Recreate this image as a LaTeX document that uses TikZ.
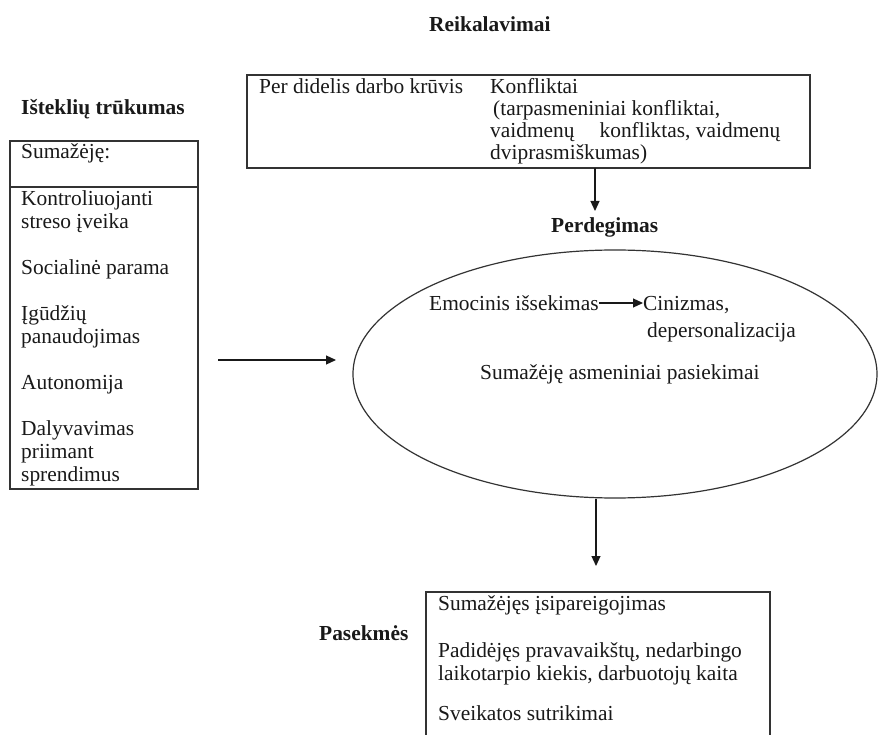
\documentclass[tikz,border=0pt]{standalone}
\usepackage{fontspec}
\setmainfont{Liberation Serif}
\usetikzlibrary{arrows.meta,shapes.geometric}
\begin{document}
\begin{tikzpicture}[x=1pt,y=-1pt,
  txt/.style={anchor=base west, inner sep=0pt, text=black!90, font=\fontsize{21.4}{23}\selectfont},
  btxt/.style={anchor=base west, inner sep=0pt, text=black!90, font=\fontsize{21.4}{23}\selectfont\bfseries},
  boxst/.style={draw=black!80, line width=1.3pt, anchor=north west, inner sep=0pt, outer sep=0pt},
  linest/.style={draw=black!80, line width=1.3pt},
  arr/.style={draw=black!90, line width=1.2pt, -{Triangle[length=10pt,width=9pt]}}]
\useasboundingbox (0,0) rectangle (879,735);
\fill[white] (0,0) rectangle (879,735);

% Reikalavimai
\node[btxt] (req) at (429,32) {Reikalavimai};
\node[boxst, minimum width=563pt, minimum height=93pt] (topbox) at (247,75) {};
\node[txt] (load) at (259,94) {Per didelis darbo krūvis};
\node[txt] (konf) at (490,94) {Konfliktai};
\node[txt] (konfa) at (493,116) {(tarpasmeniniai konfliktai,};
\node[txt] (konfb) at (490,138) {vaidmenų\hspace{25pt}konfliktas, vaidmenų};
\node[txt] (konfc) at (490,160) {dviprasmiškumas)};

% Perdegimas
\node[btxt] (perd) at (551,233) {Perdegimas};
\coordinate (tend) at (595,211);
\draw[arr] (topbox.south -| tend) -- (tend);

\node[draw=black!80, line width=1.2pt, ellipse, inner sep=0pt, minimum width=524pt, minimum height=248pt] (burn) at (615,374) {};
\node[txt] (emo) at (429,311) {Emocinis išsekimas};
\node[txt] (cin) at (643,311) {Cinizmas,};
\node[txt] (dep) at (647,338) {depersonalizacija};
\node[txt] (pers) at (480,380) {Sumažėję asmeniniai pasiekimai};
\draw[arr] ([yshift=8pt]emo.base east) -- ([yshift=8pt]cin.base west);

% Istekliu trukumas
\node[btxt] (res) at (21,115) {Išteklių trūkumas};
\node[boxst, minimum width=188pt, minimum height=348pt] (resbox) at (10,141) {};
\coordinate (div) at (0,187);
\draw[linest] (resbox.west |- div) -- (resbox.east |- div);
\node[txt] (r0) at (21,159) {Sumažėję:};
\node[txt] (r1) at (21,206) {Kontroliuojanti};
\node[txt] (r2) at (21,229) {streso įveika};
\node[txt] (r3) at (21,275) {Socialinė parama};
\node[txt] (r4) at (21,321) {Įgūdžių};
\node[txt] (r5) at (21,344) {panaudojimas};
\node[txt] (r6) at (21,390) {Autonomija};
\node[txt] (r7) at (21,436) {Dalyvavimas};
\node[txt] (r8) at (21,459) {priimant};
\node[txt] (r9) at (21,482) {sprendimus};
\coordinate (lstart) at (218,360);
\coordinate (lend) at (336,360);
\draw[arr] (lstart) -- (lend);

% Pasekmes
\coordinate (bend) at (596,566);
\draw[arr] (burn.south -| bend) -- (bend);
\draw[linest] (426,745) -- (426,592) -- (770,592) -- (770,745);
\node[btxt] (pas) at (319,640) {Pasekmės};
\node[txt] (p1) at (438,610) {Sumažėjęs įsipareigojimas};
\node[txt] (p2) at (438,657) {Padidėjęs pravavaikštų, nedarbingo};
\node[txt] (p3) at (438,680) {laikotarpio kiekis, darbuotojų kaita};
\node[txt] (p4) at (438,720) {Sveikatos sutrikimai};
\end{tikzpicture}
\end{document}
